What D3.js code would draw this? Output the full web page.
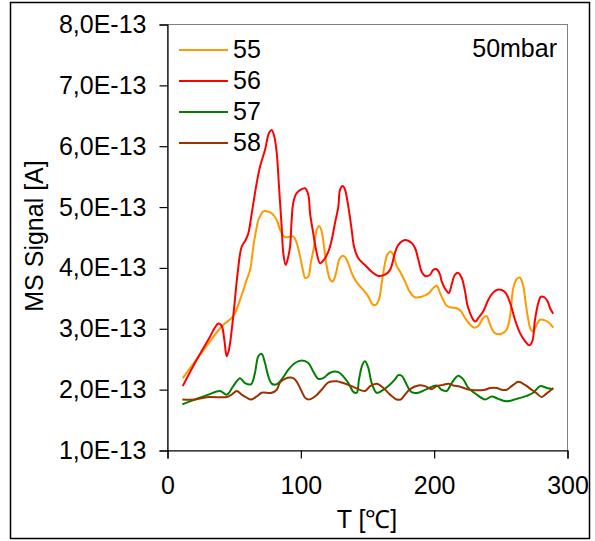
<!DOCTYPE html>
<html>
<head>
<meta charset="utf-8">
<script src="https://cdn.jsdelivr.net/npm/d3@7"></script>
<style>
  html, body { margin: 0; padding: 0; background: #fff; }
  svg { display: block; font-family: "Liberation Sans", Arial, sans-serif; }
</style>
</head>
<body>
<svg id="chart" width="595" height="541"></svg>
<script>
// Signal values are in units of 1E-13 A
const UNIT = 1e-13;

const temp55 = [11.8, 26.0, 41.0, 49.7, 54.8, 59.8, 62.3, 65.3, 68.5, 69.8, 72.2, 75.8, 78.5, 82.3, 84.8, 88.5, 94.7, 97.3, 99.8, 102.2, 103.5, 106.0, 107.8, 110.3, 112.3, 114.2, 116.0, 117.8, 119.8, 122.3, 124.3, 126.8, 129.2, 131.8, 134.3, 136.7, 139.7, 143.5, 147.2, 151.0, 154.3, 156.8, 159.0, 161.0, 163.5, 165.2, 167.8, 169.7, 172.3, 174.8, 178.5, 182.3, 186.0, 191.0, 196.0, 199.7, 202.3, 204.8, 206.0, 209.8, 213.5, 217.3, 220.5, 223.5, 227.3, 230.5, 233.5, 237.2, 239.8, 242.3, 246.0, 251.0, 254.8, 257.3, 259.7, 262.3, 264.8, 267.2, 269.0, 271.0, 272.8, 274.7, 277.3, 279.8, 283.5, 286.5, 289.7];
const signal55 = [2.18, 2.60, 3.03, 3.20, 3.47, 3.80, 3.96, 4.42, 4.78, 4.84, 4.92, 4.92, 4.89, 4.78, 4.62, 4.50, 4.51, 4.40, 4.18, 3.93, 3.83, 3.85, 4.07, 4.34, 4.62, 4.68, 4.59, 4.34, 4.02, 3.80, 3.77, 3.91, 4.13, 4.19, 4.15, 4.02, 3.85, 3.72, 3.63, 3.52, 3.39, 3.39, 3.47, 3.74, 4.07, 4.21, 4.26, 4.21, 4.02, 3.93, 3.77, 3.59, 3.51, 3.52, 3.57, 3.66, 3.70, 3.58, 3.52, 3.37, 3.34, 3.33, 3.28, 3.17, 3.06, 3.01, 3.04, 3.17, 3.20, 3.06, 2.92, 2.91, 2.98, 3.20, 3.66, 3.81, 3.83, 3.69, 3.42, 3.14, 2.98, 2.95, 3.06, 3.14, 3.13, 3.09, 3.01];

const temp56 = [11.8, 23.0, 31.0, 38.5, 41.0, 43.0, 44.8, 46.5, 49.7, 53.0, 56.0, 59.0, 61.0, 64.0, 67.3, 69.8, 73.5, 76.5, 78.5, 80.5, 82.3, 84.0, 86.0, 87.2, 89.0, 91.0, 92.3, 93.5, 94.7, 97.3, 103.5, 106.0, 107.3, 109.7, 111.8, 114.8, 117.8, 121.0, 123.5, 126.0, 128.5, 129.8, 131.8, 133.5, 136.0, 138.5, 140.3, 143.5, 148.5, 153.5, 158.5, 163.5, 167.3, 171.0, 173.5, 178.5, 183.5, 186.0, 188.5, 191.0, 193.5, 197.3, 199.7, 202.3, 204.8, 206.0, 209.8, 211.5, 213.5, 216.0, 218.5, 221.0, 223.5, 225.2, 227.3, 229.7, 231.5, 233.5, 237.2, 241.0, 244.7, 247.3, 251.0, 254.0, 257.3, 261.0, 264.8, 268.5, 271.7, 274.0, 276.0, 278.5, 280.5, 283.0, 285.5, 287.3, 289.7];
const signal56 = [2.05, 2.51, 2.81, 3.08, 3.04, 2.81, 2.54, 2.65, 3.20, 3.91, 4.34, 4.45, 4.56, 4.95, 5.39, 5.66, 5.93, 6.21, 6.26, 6.15, 5.88, 5.33, 4.67, 4.24, 4.04, 4.18, 4.34, 4.78, 5.06, 5.22, 5.30, 5.19, 4.89, 4.56, 4.29, 4.07, 4.13, 4.26, 4.45, 4.73, 5.00, 5.28, 5.34, 5.28, 5.00, 4.62, 4.34, 4.15, 4.04, 3.93, 3.86, 3.88, 3.96, 4.24, 4.37, 4.45, 4.40, 4.32, 4.13, 3.93, 3.86, 3.88, 3.96, 3.97, 3.88, 3.77, 3.61, 3.58, 3.72, 3.88, 3.91, 3.83, 3.61, 3.39, 3.25, 3.14, 3.11, 3.17, 3.28, 3.47, 3.59, 3.63, 3.63, 3.58, 3.42, 3.14, 2.92, 2.79, 2.72, 2.79, 3.14, 3.42, 3.52, 3.51, 3.44, 3.33, 3.24];

const temp57 = [11.5, 21.0, 31.0, 39.8, 44.8, 49.7, 54.8, 58.5, 63.0, 66.0, 68.5, 71.0, 73.5, 76.0, 78.5, 82.3, 86.0, 91.0, 96.0, 101.0, 106.0, 109.7, 113.5, 117.2, 122.3, 128.5, 132.2, 136.0, 140.0, 142.3, 144.0, 146.5, 148.5, 151.0, 153.5, 157.3, 161.0, 166.0, 171.0, 173.5, 176.0, 178.5, 181.0, 183.5, 188.5, 194.8, 202.3, 206.0, 209.8, 213.5, 218.5, 222.2, 226.0, 232.3, 238.5, 243.5, 248.5, 254.8, 262.3, 269.8, 274.7, 279.8, 284.8, 289.7];
const signal57 = [1.75, 1.83, 1.91, 1.97, 1.91, 2.05, 2.18, 2.10, 2.08, 2.27, 2.54, 2.58, 2.43, 2.21, 2.09, 2.08, 2.16, 2.32, 2.43, 2.47, 2.43, 2.29, 2.17, 2.18, 2.27, 2.28, 2.21, 2.10, 1.95, 1.94, 2.16, 2.40, 2.46, 2.35, 2.10, 1.94, 1.97, 2.05, 2.16, 2.23, 2.22, 2.13, 2.02, 1.95, 1.94, 2.00, 2.06, 1.99, 1.97, 2.10, 2.22, 2.16, 2.02, 1.91, 1.83, 1.88, 1.84, 1.80, 1.84, 1.89, 1.94, 2.05, 2.02, 2.00];

const temp58 = [11.5, 21.0, 31.0, 44.8, 48.5, 52.3, 56.0, 59.8, 63.0, 67.3, 71.0, 78.5, 82.3, 84.8, 88.5, 93.0, 96.0, 99.8, 103.5, 106.0, 111.0, 116.0, 121.0, 127.3, 132.2, 138.5, 148.5, 152.3, 157.3, 162.3, 167.3, 172.3, 175.3, 178.5, 182.3, 188.5, 193.5, 198.5, 202.3, 207.2, 211.0, 214.7, 219.8, 227.3, 238.5, 242.3, 247.3, 251.0, 254.8, 259.7, 263.5, 268.5, 273.5, 277.3, 281.0, 284.8, 289.7];
const signal58 = [1.83, 1.83, 1.87, 1.87, 1.91, 1.97, 1.91, 1.86, 1.83, 1.88, 1.94, 1.94, 1.99, 2.11, 2.17, 2.19, 2.16, 2.02, 1.86, 1.83, 1.88, 1.99, 2.11, 2.13, 2.10, 2.05, 1.97, 2.05, 2.09, 2.02, 1.91, 1.83, 1.83, 1.91, 2.00, 2.06, 2.05, 2.00, 2.05, 2.07, 2.09, 2.06, 2.04, 1.99, 1.99, 2.02, 2.02, 1.99, 1.99, 2.07, 2.12, 2.07, 1.99, 1.93, 1.87, 1.93, 2.02];

const seriesNames = ["55", "56", "57", "58"];
const seriesColors = ["#FF9900", "#FF0000", "#008000", "#993300"];
const seriesTemps = [temp55, temp56, temp57, temp58];
const seriesSignals = [signal55, signal56, signal57, signal58];

const xTicks = [0, 100, 200, 300];
const yTicks = [1, 2, 3, 4, 5, 6, 7, 8].map(v => v * UNIT);
const yTickLabels = ["1,0E-13", "2,0E-13", "3,0E-13", "4,0E-13", "5,0E-13", "6,0E-13", "7,0E-13", "8,0E-13"];

const xTitle = "T [\u2103]";
const yTitle = "MS Signal [A]";
const note = "50mbar";

const svg = d3.select("#chart");
const FONT = 25;

// outer chart border
svg.append("rect")
  .attr("x", 10.5).attr("y", 2.5)
  .attr("width", 579).attr("height", 536)
  .attr("fill", "none").attr("stroke", "#000").attr("stroke-width", 1.5);

const plot = { left: 167, top: 24, right: 567, bottom: 450 };

const x = d3.scaleLinear().domain([0, 300]).range([plot.left, plot.right]);
const y = d3.scaleLinear().domain([1 * UNIT, 8 * UNIT]).range([plot.bottom, plot.top]);

// plot area frame
svg.append("rect")
  .attr("x", plot.left + 0.5).attr("y", plot.top + 0.5)
  .attr("width", plot.right - plot.left).attr("height", plot.bottom - plot.top)
  .attr("fill", "none").attr("stroke", "#808080").attr("stroke-width", 1);

// axes
const yAxis = d3.axisLeft(y)
  .tickValues(yTicks)
  .tickSize(8)
  .tickPadding(13)
  .tickFormat((d, i) => yTickLabels[i]);
const gy = svg.append("g")
  .attr("transform", `translate(${plot.left + 0.5},0.5)`)
  .call(yAxis);

const xAxis = d3.axisBottom(x)
  .tickValues(xTicks)
  .tickSize(8)
  .tickPadding(27)
  .tickFormat(d3.format("d"));
const gx = svg.append("g")
  .attr("transform", `translate(0.5,${plot.bottom + 0.5})`)
  .call(xAxis);

[gx, gy].forEach(g => {
  g.select(".domain").attr("stroke", "#000").attr("stroke-width", 1.2);
  g.selectAll(".tick line").attr("stroke", "#000").attr("stroke-width", 1.2);
  g.selectAll(".tick text")
    .attr("fill", "#000")
    .style("font-size", FONT + "px")
    .style("font-family", '"Liberation Sans", Arial, sans-serif');
});
gx.selectAll(".tick text").attr("dy", "0.35em");

// series lines
const line = d3.line()
  .x(d => x(d[0]))
  .y(d => y(d[1] * UNIT))
  .curve(d3.curveCatmullRom.alpha(0.5));

seriesNames.forEach((name, i) => {
  const pts = seriesTemps[i].map((t, j) => [t, seriesSignals[i][j]]);
  svg.append("path")
    .datum(pts)
    .attr("d", line)
    .attr("fill", "none")
    .attr("stroke", seriesColors[i])
    .attr("stroke-width", 2)
    .attr("stroke-linejoin", "round");
});

// legend
const legend = svg.append("g");
seriesNames.forEach((name, i) => {
  const ly = 50 + i * 31;
  legend.append("line")
    .attr("x1", 179).attr("x2", 228)
    .attr("y1", ly).attr("y2", ly)
    .attr("stroke", seriesColors[i]).attr("stroke-width", 2);
  legend.append("text")
    .attr("x", 233).attr("y", ly + 8)
    .style("font-size", FONT + "px")
    .attr("fill", "#000")
    .text(name);
});

// pressure note
svg.append("text")
  .attr("x", 557).attr("y", 57)
  .attr("text-anchor", "end")
  .style("font-size", FONT + "px")
  .attr("fill", "#000")
  .text(note);

// axis titles
svg.append("text")
  .attr("x", plot.left + (plot.right - plot.left) / 2)
  .attr("y", 528)
  .attr("text-anchor", "middle")
  .style("font-size", FONT + "px")
  .attr("fill", "#000")
  .text(xTitle);

svg.append("text")
  .attr("transform", "translate(43,236) rotate(-90)")
  .attr("text-anchor", "middle")
  .style("font-size", FONT + "px")
  .attr("fill", "#000")
  .text(yTitle);
</script>
</body>
</html>
